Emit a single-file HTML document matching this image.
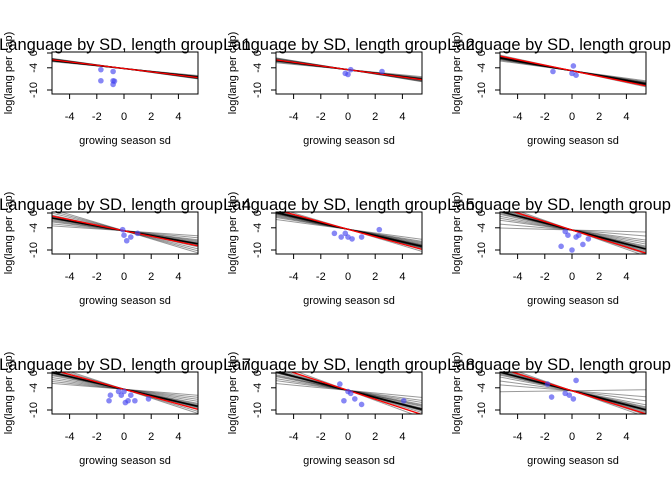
<!DOCTYPE html>
<html><head><meta charset="utf-8"><style>
body{margin:0;background:#fff;}
svg{display:block;font-family:"Liberation Sans",Arial,sans-serif;}
</style></head><body>
<svg id="c" width="672" height="480"></svg>
<script>
// per-panel data: red fit (intercept, slope), black fit, gray posterior slopes, points
const groups = [1,2,3,4,5,6,7,8,9];
const redInt = [-4.2,-4.5,-4.8,-4.8,-4.4,-4.6,-4.4,-4.7,-4.8];
const redSlope = [-0.45,-0.5,-0.75,-0.75,-1.0,-1.15,-1.0,-1.2,-1.15];
const blackSlope = [-0.42,-0.48,-0.65,-0.65,-0.85,-0.95,-0.85,-0.95,-0.95];
const graySlopes = [
 [-0.35,-0.38,-0.4,-0.42,-0.44,-0.46,-0.48,-0.5,-0.52,-0.4,-0.45,-0.47,-0.43,-0.41,-0.49],
 [-0.35,-0.4,-0.42,-0.45,-0.48,-0.5,-0.55,-0.58,-0.6,-0.46,-0.52,-0.44,-0.47,-0.5,-0.53],
 [-0.5,-0.55,-0.6,-0.62,-0.65,-0.68,-0.7,-0.72,-0.75,-0.8,-0.66,-0.58,-0.63,-0.69,-0.71],
 [-0.25,-0.35,-0.45,-0.55,-0.6,-0.7,-0.8,-0.9,-1.0,-1.1,-0.65,-0.5,-0.62,-0.68,-0.75],
 [-0.5,-0.6,-0.7,-0.75,-0.8,-0.85,-0.9,-0.95,-1.0,-1.1,-0.65,-0.88,-0.82,-0.78,-0.92],
 [-0.1,-0.3,-0.5,-0.7,-0.8,-0.9,-1.0,-1.1,-1.2,-1.3,-0.6,-0.95,-0.85,-1.05,-0.92],
 [-0.3,-0.4,-0.5,-0.6,-0.7,-0.8,-0.9,-1.0,-1.1,-1.2,-0.75,-0.85,-0.82,-0.88,-0.95],
 [-0.35,-0.5,-0.6,-0.7,-0.8,-0.9,-1.0,-1.1,-1.2,-1.35,-0.75,-0.95,-0.88,-1.02,-0.92],
 [0.05,-0.3,-0.5,-0.7,-0.8,-0.9,-1.0,-1.1,-1.2,-1.3,-0.85,-0.95,-0.92,-1.05,-0.98]
];
const ptsX = [
 [-1.7,-1.7,-0.8,-0.8,-0.8,-0.7],
 [-0.2,0.0,0.2,2.5],
 [-1.4,0.0,0.1,0.3],
 [-0.1,0.0,0.2,1.0,0.5],
 [-1.0,-0.5,0.0,0.3,1.0,2.3,-0.2],
 [-0.8,-0.3,0.0,0.3,0.8,1.2,-0.5,0.5],
 [-1.1,-1.0,-0.4,0.0,0.1,0.3,0.5,0.8,1.8,-0.2],
 [-0.6,-0.3,0.2,0.5,1.0,4.1,0.0],
 [-1.8,-1.5,-0.5,0.3,0.1,-0.2]
];
const ptsY = [
 [-4.5,-7.5,-5.0,-7.5,-8.5,-7.6],
 [-5.5,-5.8,-4.5,-5.0],
 [-5.0,-5.5,-3.5,-6.0],
 [-4.5,-6.0,-7.5,-5.5,-6.5],
 [-5.5,-6.5,-6.5,-7.0,-6.5,-4.5,-5.5],
 [-9.0,-6.0,-10.0,-6.5,-8.5,-7.0,-5.0,-6.0],
 [-7.5,-6.0,-5.0,-5.0,-8.0,-7.5,-6.0,-7.5,-7.0,-6.0],
 [-3.0,-7.5,-5.5,-7.0,-8.5,-7.5,-5.0],
 [-3.0,-6.5,-5.5,-2.0,-7.0,-6.0]
];
const xTicks = [-4,-2,0,2,4];
const yTicks = [0,-4,-10];

const NS="http://www.w3.org/2000/svg";
const svg=document.getElementById('c');
function mk(t,a,p){const e=document.createElementNS(NS,t);for(const k in a)e.setAttribute(k,a[k]);(p||svg).appendChild(e);return e;}
groups.forEach((g,i)=>{
  const ox=(i%3)*224, oy=Math.floor(i/3)*160;
  const gp=mk('g',{transform:`translate(${ox},${oy})`});
  
  
  const X=v=>124+v*13.6, Y=v=>53-v*3.7;
  const clip=mk('clipPath',{id:'cp'+i},gp);
  mk('rect',{x:52,y:52,width:146,height:42},clip);
  const plot=mk('g',{'clip-path':`url(#cp${i})`},gp);
  const ri=redInt[i];
  graySlopes[i].forEach(s=>{
    const l=mk('line',{x1:X(-5.4),y1:Y(ri+s*-5.4),x2:X(5.4),y2:Y(ri+s*5.4),stroke:'rgba(0,0,0,0.4)','stroke-width':1},plot);
    
    
  });
  const bs=blackSlope[i];
  const bl=mk('line',{x1:X(-5.4),y1:Y(ri+bs*-5.4),x2:X(5.4),y2:Y(ri+bs*5.4),stroke:'#000','stroke-width':1.5},plot);
  
  
  const rs=redSlope[i];
  const rl=mk('line',{x1:X(-5.4),y1:Y(ri+rs*-5.4),x2:X(5.4),y2:Y(ri+rs*5.4),stroke:'#f00','stroke-width':1.3},plot);
  
  
  ptsX[i].forEach((x,j)=>{
    const c=mk('circle',{cx:X(x),cy:Y(ptsY[i][j]),r:2.8,fill:'rgba(70,70,240,0.65)'},plot);
    
    
  });
  const box=mk('rect',{x:52,y:52,width:146,height:42,fill:'none',stroke:'#000','stroke-width':1},gp);
  
  
  xTicks.forEach(t=>{
    mk('line',{x1:X(t),y1:94,x2:X(t),y2:99,stroke:'#000'},gp);
    const tx=mk('text',{x:X(t),y:120,'font-size':11,'text-anchor':'middle'},gp);tx.textContent=t;
    
    
  });
  yTicks.forEach(t=>{
    mk('line',{x1:47,y1:Y(t),x2:52,y2:Y(t),stroke:'#000'},gp);
    const tx=mk('text',{x:37,y:Y(t),'font-size':11,'text-anchor':'middle',transform:`rotate(-90 37 ${Y(t)})`},gp);tx.textContent=t;
    
    
  });
  const xl=mk('text',{x:125,y:144,'font-size':11,'text-anchor':'middle'},gp);xl.textContent='growing season sd';
  
  
  const yl=mk('text',{x:12,y:73,'font-size':11,'text-anchor':'middle',transform:'rotate(-90 12 73)'},gp);yl.textContent='log(lang per cap)';
  
  
  const tt=mk('text',{x:125,y:50,'font-size':16.5,'text-anchor':'middle'},gp);tt.textContent='Language by SD, length group = '+g;
  
  
});
</script>
</body></html>
